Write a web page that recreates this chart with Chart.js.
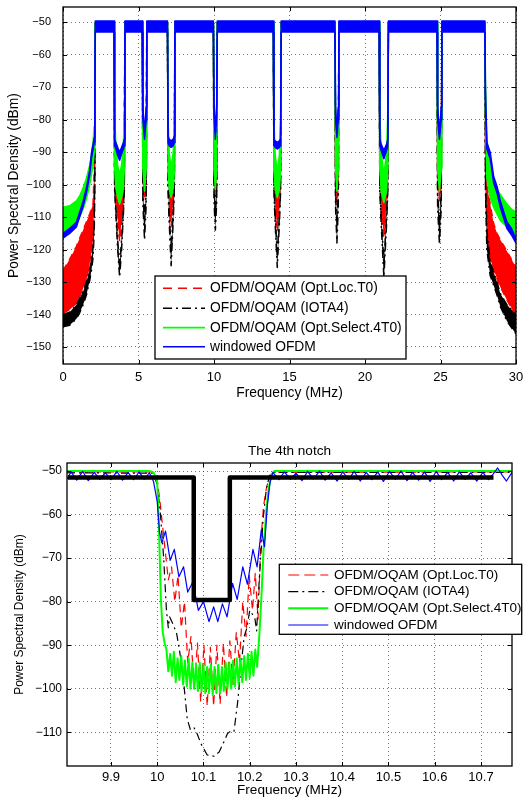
<!DOCTYPE html>
<html>
<head>
<meta charset="utf-8">
<script src="https://cdn.jsdelivr.net/npm/chart.js@4.4.0/dist/chart.umd.min.js"></script>
<style>
  html, body { margin: 0; padding: 0; background: #fff; }
  #wrap { position: relative; width: 525px; height: 799px; }
  canvas { position: absolute; left: 0; }
  #topCanvas { top: 0; }
  #bottomCanvas { top: 400px; }
</style>
</head>
<body>
<div id="wrap">
  <canvas id="topCanvas" width="525" height="400"></canvas>
  <canvas id="bottomCanvas" width="525" height="399"></canvas>
</div>
<script>
// psd.js - full band PSD (top) and zoom on the 4th notch (bottom)

const seriesLabels = ['OFDM/OQAM (Opt.Loc.T0)', 'OFDM/OQAM (IOTA4)', 'OFDM/OQAM (Opt.Select.4T0)', 'windowed OFDM'];

// ---------- top panel ----------
const topXTicks = [0, 5, 10, 15, 20, 25, 30];
const topYTicks = [-150, -140, -130, -120, -110, -100, -90, -80, -70, -60, -50];

// frequency breakpoints (MHz): left skirt, 8 notches, right skirt
const topFreq = [
  0, 0.44, 0.89, 1.1, 1.33, 1.55, 1.77, 1.88, 1.99, 2.07, 2.11, 2.14,
  3.38, 3.42, 3.5, 3.62, 3.75, 3.88, 4.0, 4.06, 4.1,
  5.25, 5.29, 5.4, 5.51, 5.55,
  6.92, 6.96, 7.03, 7.16, 7.3, 7.37, 7.41,
  9.96, 10.0, 10.09, 10.18, 10.22,
  13.93, 13.97, 14.05, 14.19, 14.33, 14.41, 14.45,
  18.01, 18.05, 18.14, 18.23, 18.27,
  20.94, 20.98, 21.07, 21.25, 21.43, 21.51, 21.55,
  24.77, 24.81, 24.93, 25.05, 25.09,
  27.94, 27.98, 28.07, 28.29, 28.52, 28.74, 28.96, 29.4, 29.7, 30
];

// upper / lower envelope of each curve (dBm)
const blueHi = [
  -115, -113.5, -111.5, -108.5, -105.2, -101, -95.5, -90.4, -87.6, -85.5, -72, -49.6,
  -49.6, -86, -87, -88.5, -90, -88.5, -87, -86, -49.6,
  -49.6, -76, -84, -76, -49.6,
  -49.6, -85, -86, -86.5, -86, -85, -49.6,
  -49.6, -75, -84, -75, -49.6,
  -49.6, -86, -86.5, -87, -86.5, -86, -49.6,
  -49.6, -76, -83.5, -76, -49.6,
  -49.6, -86, -87.5, -89.5, -87.5, -86, -49.6,
  -49.6, -76, -84, -76, -49.6,
  -49.6, -72, -87, -90, -97.5, -100.5, -105, -111.5, -113.5, -116.5
];
const blueLo = [
  -116.5, -115, -113, -110, -106.7, -102.5, -97, -92, -89.2, -87, -76, -53,
  -53, -88, -89, -91, -92.5, -90.5, -89, -88, -53,
  -53, -80, -86, -80, -53,
  -53, -87, -88, -88.5, -88, -87, -53,
  -53, -79, -86, -79, -53,
  -53, -88, -88.5, -89, -88.5, -88, -53,
  -53, -80, -85.5, -80, -53,
  -53, -88, -89.5, -92, -89.5, -88, -53,
  -53, -80, -86, -80, -53,
  -53, -76, -89, -92, -99.5, -102.5, -107, -113.5, -115.5, -118
];
const greenHi = [
  -107, -106.5, -105, -103.5, -101, -98, -94, -91, -87, -82, -70, -50,
  -50, -78, -88, -94, -97, -94, -88, -78, -50,
  -50, -80, -90, -80, -50,
  -50, -80, -90, -95, -90, -80, -50,
  -50, -80, -90, -80, -50,
  -50, -80, -91, -96, -91, -80, -50,
  -50, -80, -90, -80, -50,
  -50, -78, -90, -97, -90, -78, -50,
  -50, -80, -90, -80, -50,
  -50, -70, -86, -95, -99, -101.5, -103, -106, -107.5, -108.5
];
const greenLo = [
  -114.5, -114, -112, -110, -107.5, -104.5, -100, -97, -94, -90, -80, -50.5,
  -50.5, -95, -101, -104, -106, -104, -101, -95, -50.5,
  -50.5, -95, -102, -95, -50.5,
  -50.5, -96, -101, -104, -101, -96, -50.5,
  -50.5, -95, -101.5, -95, -50.5,
  -50.5, -96, -101.5, -104, -101.5, -96, -50.5,
  -50.5, -95, -102, -95, -50.5,
  -50.5, -95, -102, -105.5, -102, -95, -50.5,
  -50.5, -95, -102, -95, -50.5,
  -50.5, -80, -98, -104, -107, -109, -111, -113, -114, -115
];
const redHi = [
  -126.5, -123, -119, -116.5, -114, -111.5, -109, -107.5, -106, -95, -80, -50,
  -50, -88, -96, -101, -104, -101, -96, -88, -50,
  -50, -95, -100, -95, -50,
  -50, -90, -99, -104, -99, -90, -50,
  -50, -94, -99, -94, -50,
  -50, -90, -100, -104, -100, -90, -50,
  -50, -95, -100, -95, -50,
  -50, -88, -98, -104.5, -98, -88, -50,
  -50, -95, -100, -95, -50,
  -50, -80, -100, -106, -112, -115, -117, -120.5, -123, -125.5
];
const redLo = [
  -139.6, -138.5, -136.5, -134.5, -132, -129.5, -124, -121, -117, -105, -90, -50.5,
  -50.5, -96, -105, -111, -117.5, -111, -105, -96, -50.5,
  -50.5, -100, -104.5, -100, -50.5,
  -50.5, -97, -105, -113, -105, -97, -50.5,
  -50.5, -99, -103.5, -99, -50.5,
  -50.5, -97, -106, -114.5, -106, -97, -50.5,
  -50.5, -100, -105.5, -100, -50.5,
  -50.5, -96, -106, -116.5, -106, -96, -50.5,
  -50.5, -100, -105, -100, -50.5,
  -50.5, -95, -114, -123, -126, -129, -131.5, -135.5, -138, -141.5
];
const blackHi = [
  -140, -139.3, -137, -135, -133, -130, -126, -122.5, -119, -110, -95, -50,
  -50, -100, -107, -117, -125, -117, -107, -100, -50,
  -50, -102, -110, -102, -50,
  -50, -100, -108, -121, -108, -100, -50,
  -50, -101, -108, -101, -50,
  -50, -100, -109, -121.5, -109, -100, -50,
  -50, -103, -111, -103, -50,
  -50, -100, -109, -124.5, -109, -100, -50,
  -50, -103, -111, -103, -50,
  -50, -98, -114, -123.5, -127, -130, -133.5, -137, -138.5, -140
];
const blackLo = [
  -143.8, -143.3, -141.3, -139.5, -137, -134, -129.5, -126.5, -122.5, -114, -100, -50.5,
  -50.5, -102, -109, -120, -128.5, -120, -109, -102, -50.5,
  -50.5, -106, -117, -106, -50.5,
  -50.5, -102, -111, -125, -111, -102, -50.5,
  -50.5, -105, -114, -105, -50.5,
  -50.5, -102, -112, -125.5, -112, -102, -50.5,
  -50.5, -107, -118, -107, -50.5,
  -50.5, -102, -112, -128.5, -112, -102, -50.5,
  -50.5, -107, -118.5, -107, -50.5,
  -50.5, -102, -120, -128, -131, -134, -137.5, -142, -144, -146
];

// ---------- bottom panel (4th notch) ----------
const notchXTicks = [9.9, 10, 10.1, 10.2, 10.3, 10.4, 10.5, 10.6, 10.7];
const notchYTicks = [-110, -100, -90, -80, -70, -60, -50];

const maskFreq = [9.807, 10.079, 10.079, 10.157, 10.157, 10.727];
const maskVal = [-51.5, -51.5, -79.6, -79.6, -51.5, -51.5];

const greenFreq = [
  9.805, 9.985, 9.993, 10.000, 10.004, 10.008, 10.012, 10.016,
  10.020, 10.024, 10.028, 10.032, 10.036, 10.040, 10.044, 10.048, 10.052, 10.056,
  10.060, 10.064, 10.068, 10.072, 10.076, 10.080, 10.084, 10.088, 10.092, 10.096,
  10.100, 10.104, 10.108, 10.112, 10.116, 10.120, 10.124, 10.128, 10.132, 10.136,
  10.140, 10.144, 10.148, 10.152, 10.156, 10.160, 10.164, 10.168, 10.172, 10.176,
  10.180, 10.184, 10.188, 10.192, 10.196, 10.200, 10.204, 10.208, 10.212, 10.216,
  10.221, 10.225, 10.230, 10.236, 10.241, 10.247, 10.253, 10.767
];
const greenVal = [
  -50, -50, -50.5, -52.5, -64, -79.5, -87, -89.5,
  -91, -96, -92, -97, -91.5, -98.5, -93, -98, -92.5, -99,
  -93.5, -99.5, -93, -100, -94, -100, -94.5, -100.5, -94, -100.5,
  -94.5, -101, -95, -101, -94.5, -101.5, -95, -101, -94.5, -101,
  -95, -100.5, -94, -100, -94, -100, -93.5, -99.5, -93, -99,
  -93, -98.5, -92.5, -98, -92, -97.5, -91.5, -97, -91, -95,
  -87.3, -79.6, -68, -59, -54, -51, -50, -50
];

const blueFreq = [
  9.805, 9.814, 9.826, 9.839, 9.851, 9.864, 9.876, 9.888, 9.900, 9.913, 9.925,
  9.937, 9.949, 9.961, 9.972, 9.983, 9.992,
  10.000, 10.005, 10.010, 10.018, 10.028, 10.037, 10.047, 10.057, 10.066, 10.077,
  10.089, 10.100, 10.112, 10.122, 10.131, 10.141, 10.151, 10.163, 10.173, 10.185,
  10.195, 10.207, 10.216, 10.225, 10.232, 10.238, 10.244,
  10.250, 10.263, 10.275, 10.288, 10.300, 10.313, 10.325, 10.338, 10.351, 10.363,
  10.376, 10.389, 10.401, 10.414, 10.426, 10.439, 10.452, 10.464, 10.477, 10.489,
  10.502, 10.515, 10.527, 10.540, 10.552, 10.565, 10.578, 10.590, 10.603, 10.615,
  10.628, 10.641, 10.653, 10.666, 10.678, 10.691, 10.704, 10.716, 10.727, 10.736,
  10.746, 10.755, 10.767
];
const blueVal = [
  -51.8, -50.2, -52.1, -50.1, -52.2, -50.3, -51.9, -50.4, -52.0, -50.1, -52.1,
  -50.3, -52.0, -50.2, -51.9, -50.4, -52.4,
  -57, -64, -66.5, -63.8, -70.5, -68, -74.3, -72, -77.8, -75.5,
  -82, -80, -84.6, -81.2, -84.6, -80.5, -83.5, -75.8, -79.5, -72,
  -76, -68, -72, -63.5, -67.4, -58, -52.5,
  -50.3, -52.0, -50.2, -51.9, -50.5, -52.2, -50.1, -51.8, -50.0, -52.1,
  -50.4, -52.3, -50.2, -51.9, -50.1, -52.3, -50.3, -52.0, -50.2, -52.4,
  -50.1, -51.9, -50.0, -52.2, -50.3, -52.1, -50.2, -52.4, -50.1, -52.0,
  -50.3, -52.3, -50.2, -51.9, -50.4, -52.3, -50.3, -52.0, -50.6, -49.3,
  -51.0, -52.3, -50.3
];

const redFreq = [
  9.805, 9.990, 10.000, 10.006, 10.012, 10.018, 10.024, 10.031, 10.038, 10.045,
  10.052, 10.059, 10.066, 10.073, 10.080, 10.087, 10.094, 10.101, 10.108, 10.115,
  10.122, 10.129, 10.136, 10.143, 10.150, 10.157, 10.164, 10.171, 10.178, 10.185,
  10.192, 10.199, 10.206, 10.212, 10.218, 10.224, 10.230, 10.236, 10.242, 10.250, 10.767
];
const redVal = [
  -50.2, -50.2, -52, -57, -63, -69, -75, -72, -80, -74,
  -86, -80, -94, -88, -100, -89.5, -103, -90, -104, -90.5,
  -104, -90, -103.5, -89.5, -102, -89, -99, -87, -94, -80,
  -88, -74, -82, -73.5, -84, -66, -58, -54, -51.5, -50.3, -50.2
];

const blackFreq = [
  9.805, 9.990, 10.000, 10.007, 10.014, 10.020, 10.024, 10.027, 10.034, 10.042,
  10.054, 10.065, 10.072, 10.080, 10.087, 10.094, 10.108, 10.123, 10.134, 10.145,
  10.152, 10.160, 10.166, 10.174, 10.181, 10.188, 10.194, 10.200, 10.211, 10.215,
  10.218, 10.222, 10.229, 10.236, 10.243, 10.250, 10.767
];
const blackVal = [
  -50.4, -50.5, -53, -60, -70, -82, -86, -83.5, -85.1, -87.3,
  -95, -107, -109.5, -109, -110.5, -112.5, -115.2, -115.5, -114.5, -112,
  -110.3, -109.6, -109.8, -103, -95, -88, -86, -82, -83.7, -86.7,
  -80, -72.6, -61, -54, -51, -50.3, -50.3
];

// ---------- helpers ----------
const SANS = '"Liberation Sans", Arial, Helvetica, sans-serif';
const NARROW = '"Liberation Sans Narrow", "Arial Narrow", "Liberation Sans", sans-serif';
const GRID = 'rgba(0,0,0,0.55)';
const RED = '#ff0000', BLACK = '#000000', GREEN = '#00ff00', BLUE = '#0000ff';

function pts(xs, ys) {
  return xs.map((x, i) => ({ x: x, y: ys[i] }));
}

function fmt(v) {
  const r = Math.round(v * 10) / 10;
  return r < 0 ? '\u2212' + String(Math.abs(r)) : String(r);
}

function bandSets(color, hi, lo, width, dash) {
  const base = {
    borderColor: color, backgroundColor: color, borderWidth: width,
    borderDash: dash, pointRadius: 0, tension: 0, borderJoinStyle: 'round'
  };
  return [
    Object.assign({ data: pts(topFreq, hi), fill: '+1' }, base),
    Object.assign({ data: pts(topFreq, lo), fill: false }, base)
  ];
}

function lineSet(color, xs, ys, width, dash, order) {
  return {
    data: pts(xs, ys), borderColor: color, backgroundColor: color, borderWidth: width,
    borderDash: dash, pointRadius: 0, tension: 0, fill: false, order: order,
    borderJoinStyle: 'round'
  };
}

// box + inward tick marks like the original plot
function framePlugin(tickLen) {
  return {
    id: 'frame',
    afterDatasetsDraw(chart) {
      const { ctx, chartArea: a, scales } = chart;
      ctx.save();
      ctx.setLineDash([]);
      ctx.strokeStyle = '#000';
      ctx.lineWidth = 1;
      ctx.beginPath();
      scales.x.ticks.forEach(t => {
        const px = Math.round(scales.x.getPixelForValue(t.value)) + 0.5;
        ctx.moveTo(px, a.bottom); ctx.lineTo(px, a.bottom - tickLen);
        ctx.moveTo(px, a.top); ctx.lineTo(px, a.top + tickLen);
      });
      scales.y.ticks.forEach(t => {
        const py = Math.round(scales.y.getPixelForValue(t.value)) + 0.5;
        ctx.moveTo(a.left, py); ctx.lineTo(a.left + tickLen, py);
        ctx.moveTo(a.right, py); ctx.lineTo(a.right - tickLen, py);
      });
      ctx.stroke();
      ctx.lineWidth = 1.3;
      ctx.strokeRect(a.left, a.top, a.right - a.left, a.bottom - a.top);
      ctx.restore();
    }
  };
}

function legendPlugin(cfg) {
  return {
    id: 'boxLegend',
    afterDraw(chart) {
      const ctx = chart.ctx;
      ctx.save();
      ctx.fillStyle = '#fff';
      ctx.fillRect(cfg.x, cfg.y, cfg.w, cfg.h);
      ctx.lineWidth = 1.3;
      ctx.strokeStyle = '#000';
      ctx.setLineDash([]);
      ctx.strokeRect(cfg.x, cfg.y, cfg.w, cfg.h);
      ctx.font = cfg.font;
      ctx.textBaseline = 'middle';
      cfg.items.forEach((it, i) => {
        const y = cfg.rows[i];
        ctx.beginPath();
        ctx.setLineDash(it.dash);
        ctx.lineWidth = it.width;
        ctx.strokeStyle = it.color;
        ctx.moveTo(cfg.x0, y);
        ctx.lineTo(cfg.x1, y);
        ctx.stroke();
        ctx.setLineDash([]);
        ctx.fillStyle = '#000';
        ctx.fillText(seriesLabels[i], cfg.textX, y);
      });
      ctx.restore();
    }
  };
}

function axisCfg(min, max, tickVals, size, tickFont, tickPad, title, titleFont, titlePad, fit) {
  return {
    type: 'linear', min: min, max: max,
    afterFit: s => {
      fit(s);
      // labels may overhang; the layout padding already leaves room
      s.paddingTop = 0; s.paddingBottom = 0; s.paddingLeft = 0; s.paddingRight = 0;
    },
    afterBuildTicks: s => { s.ticks = tickVals.map(v => ({ value: v })); },
    ticks: {
      autoSkip: false, maxRotation: 0, padding: tickPad, color: '#000',
      font: { family: tickFont, size: size }, callback: v => fmt(v)
    },
    grid: { color: GRID, lineWidth: 1, drawTicks: false },
    border: { display: false, dash: [1, 3] },
    title: {
      display: true, text: title, color: '#000',
      font: { family: SANS, size: titleFont, lineHeight: 1 }, padding: titlePad
    }
  };
}

// ---------- top chart ----------
new Chart(document.getElementById('topCanvas').getContext('2d'), {
  type: 'line',
  data: {
    datasets: [].concat(
      bandSets(BLUE, blueHi, blueLo, 1.5, []),
      bandSets(GREEN, greenHi, greenLo, 1.5, []),
      bandSets(BLACK, blackHi, blackLo, 1.5, [8, 4, 2, 4]),
      bandSets(RED, redHi, redLo, 1.5, [7, 5])
    )
  },
  options: {
    responsive: false,
    animation: false,
    events: [],
    layout: { padding: { left: 0, right: 9, top: 7, bottom: 0 } },
    plugins: { legend: { display: false }, tooltip: { enabled: false } },
    scales: {
      x: axisCfg(0, 30, topXTicks, 13, SANS, 6, 'Frequency (MHz)', 13.8,
        { top: 0, bottom: 0 }, s => { s.height = 36; }),
      y: axisCfg(-155.24, -45.29, topYTicks, 11, NARROW, 12, 'Power Spectral Density (dBm)', 13.8,
        { top: 7.3, bottom: 0 }, s => { s.width = 63; })
    }
  },
  plugins: [
    framePlugin(4),
    legendPlugin({
      x: 155, y: 276, w: 251, h: 83, x0: 163, x1: 205, textX: 210,
      rows: [288.3, 308.3, 327.7, 346.7], font: '13.8px ' + SANS,
      items: [
        { color: RED, dash: [9, 6], width: 1.5 },
        { color: BLACK, dash: [9, 4, 2, 4], width: 1.5 },
        { color: GREEN, dash: [], width: 1.8 },
        { color: BLUE, dash: [], width: 1.5 }
      ]
    })
  ]
});

// ---------- bottom chart ----------
new Chart(document.getElementById('bottomCanvas').getContext('2d'), {
  type: 'line',
  data: {
    datasets: [
      lineSet(BLACK, maskFreq, maskVal, 4.5, [], 0),
      lineSet(BLUE, blueFreq, blueVal, 1.2, [], 1),
      lineSet(GREEN, greenFreq, greenVal, 2, [], 2),
      lineSet(BLACK, blackFreq, blackVal, 1.2, [8, 4, 2, 4], 3),
      lineSet(RED, redFreq, redVal, 1.2, [8, 5], 4)
    ]
  },
  options: {
    responsive: false,
    animation: false,
    events: [],
    layout: { padding: { left: 0, right: 13, top: 63, bottom: 0 } },
    plugins: { legend: { display: false }, tooltip: { enabled: false } },
    scales: {
      x: axisCfg(9.805, 10.767, notchXTicks, 13, SANS, 4, 'Frequency (MHz)', 13.6,
        { top: 0, bottom: 1.9 }, s => { s.height = 33; }),
      y: axisCfg(-117.74, -48.16, notchYTicks, 12, SANS, 5, 'Power Spectral Density (dBm)', 12,
        { top: 13.2, bottom: 0 }, s => { s.width = 67; })
    }
  },
  plugins: [
    framePlugin(4),
    legendPlugin({
      x: 279.3, y: 164.3, w: 242.4, h: 70, x0: 288.3, x1: 328.3, textX: 334,
      rows: [175, 191.7, 208.3, 225], font: '13.5px ' + SANS,
      items: [
        { color: RED, dash: [11, 5], width: 1.2 },
        { color: BLACK, dash: [10, 4, 2, 4], width: 1.2 },
        { color: GREEN, dash: [], width: 2 },
        { color: BLUE, dash: [], width: 1.2 }
      ]
    }),
    {
      id: 'notchTitle',
      afterDraw(chart) {
        const ctx = chart.ctx;
        const a = chart.chartArea;
        ctx.save();
        ctx.font = '13.6px ' + SANS;
        ctx.fillStyle = '#000';
        ctx.textAlign = 'center';
        ctx.textBaseline = 'alphabetic';
        ctx.fillText('The 4th notch', (a.left + a.right) / 2, 55);
        ctx.restore();
      }
    }
  ]
});
</script>
</body>
</html>
